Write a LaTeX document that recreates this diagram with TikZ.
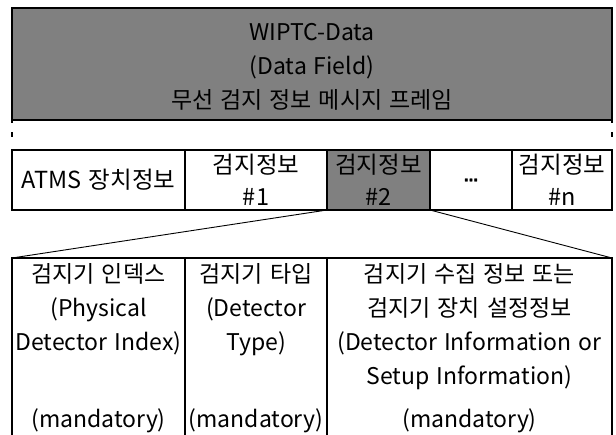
\documentclass[tikz,border=0pt]{standalone}
\usepackage{fontspec}
\setmainfont{Noto Sans CJK KR}[WordSpace=1.35]
\newfontfamily\dotsfont{DejaVu Sans}[FakeBold=2]
\definecolor{boxgray}{RGB}{128,128,128}
\begin{document}
\begin{tikzpicture}[x=1pt,y=-1pt,
  frame/.style={draw=black, line width=2.6pt, rectangle, inner sep=0pt, outer sep=0pt,
    anchor=north west, align=center},
  rowtext/.style={font=\fontsize{23.5}{32}\selectfont},
  label/.style={inner sep=0pt, outer sep=0pt, align=center, font=\fontsize{23}{34}\selectfont},
  thin/.style={draw=black, line width=0.9pt},
  sidedash/.style={draw=black, line width=2.6pt, dash pattern=on 3pt off 9pt on 5pt off 20pt}
]
\useasboundingbox (0,0) rectangle (616,434);
\clip (0,0) rectangle (616,434);
% top frame
\node[frame, fill=boxgray, minimum width=600pt, minimum height=112pt] (top) at (12,8) {};
\node[label] (toptxt) at (312,67) {WIPTC-Data\\(Data Field)\\무선 검지 정보 메시지 프레임};
% row of fields
\node[frame, rowtext, minimum width=173pt, minimum height=60pt] (a1) at (12,150) {ATMS 장치정보};
\node[frame, rowtext, minimum width=142pt, minimum height=60pt] (a2) at (185,150) {검지정보\\\#1};
\node[frame, rowtext, fill=boxgray, minimum width=103pt, minimum height=60pt] (a3) at (327,150) {검지정보\\\#2};
\node[frame, font=\fontsize{14}{14}\dotsfont\bfseries, minimum width=82pt, minimum height=60pt] (a4) at (430,150) {…};
\node[frame, rowtext, minimum width=100pt, minimum height=60pt] (a5) at (512,150) {검지정보\\\#n};
% dashed side continuation
\draw[sidedash] (top.south west) -- (a1.north west);
\draw[sidedash] (top.south east) -- (a5.north east);
% detail boxes
\node[frame, minimum width=173pt, minimum height=200pt] (b1) at (12,258) {};
\node[frame, minimum width=142pt, minimum height=200pt] (b2) at (185,258) {};
\node[frame, minimum width=285pt, minimum height=200pt] (b3) at (327,258) {};
% connectors
\draw[thin] (a3.south west) -- (b1.north west);
\draw[thin] (a3.south east) -- (b3.north east);
% texts
\node[label, anchor=north] (t1) at (98.5,263) {검지기 인덱스\\(Physical\\Detector Index)};
\node[label, anchor=north] (t2) at (256,263) {검지기 타입\\(Detector\\Type)};
\node[label, anchor=north] (t3) at (469.5,263) {검지기 수집 정보 또는\\검지기 장치 설정정보\\(Detector Information or\\Setup Information)};
\node[label] (m1) at (98.5,421) {(mandatory)};
\node[label] (m2) at (256,421) {(mandatory)};
\node[label] (m3) at (469.5,421) {(mandatory)};
\end{tikzpicture}
\end{document}
